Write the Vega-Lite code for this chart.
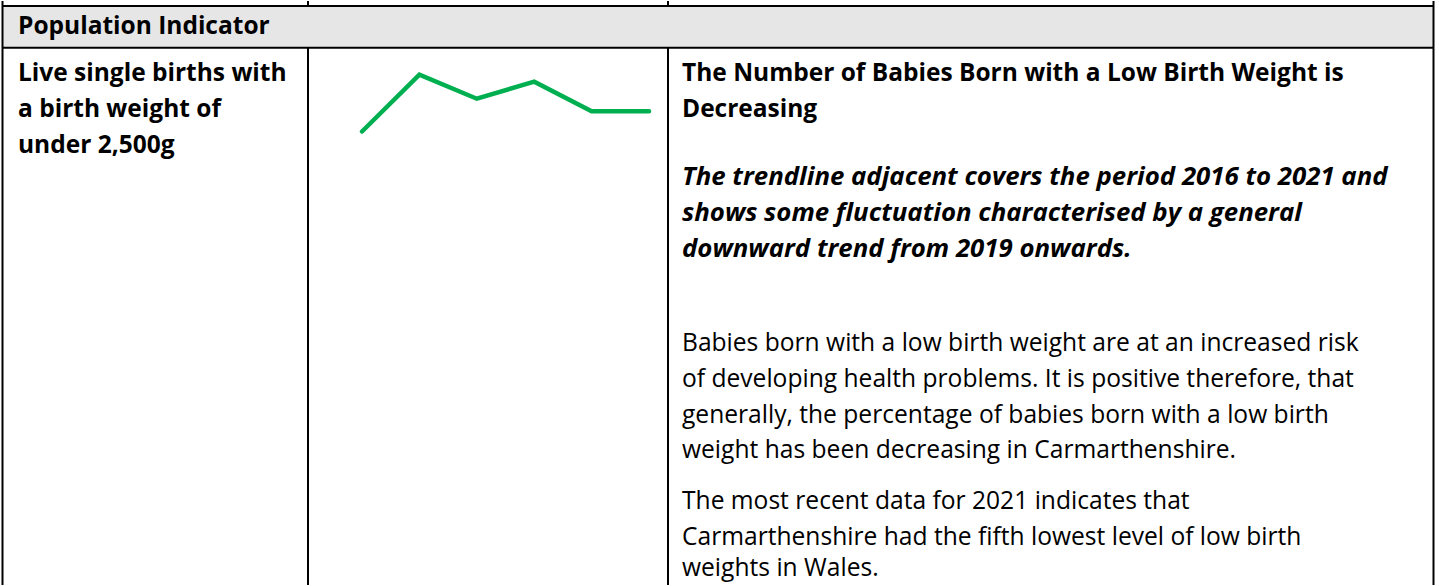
{
  "$schema": "https://vega.github.io/schema/vega-lite/v6.json",
  "width": 1439,
  "height": 586,
  "autosize": {"type": "fit", "contains": "padding"},
  "padding": 0,
  "background": "#ffffff",
  "config": {"view": {"stroke": null}},
  "datasets": {
    "bg": [{"x1": 3, "x2": 1433, "y1": 5, "y2": 47}],
    "lines": [
      {"x1": 2.5, "x2": 2.5, "y1": 0, "y2": 586},
      {"x1": 1433.5, "x2": 1433.5, "y1": 0, "y2": 586},
      {"x1": 308, "x2": 308, "y1": 0, "y2": 5},
      {"x1": 668, "x2": 668, "y1": 0, "y2": 5},
      {"x1": 308, "x2": 308, "y1": 47, "y2": 586},
      {"x1": 668, "x2": 668, "y1": 47, "y2": 586},
      {"x1": 2.5, "x2": 1433.5, "y1": 5, "y2": 5},
      {"x1": 2.5, "x2": 1433.5, "y1": 47, "y2": 47}
    ],
    "texts": [
      {"x": 18, "y": 26, "t": "Population Indicator", "s": "bold"},
      {"x": 18, "y": 73, "t": "Live single births with", "s": "bold"},
      {"x": 18, "y": 109, "t": "a birth weight of", "s": "bold"},
      {"x": 18, "y": 145, "t": "under 2,500g", "s": "bold"},
      {"x": 682, "y": 73, "t": "The Number of Babies Born with a Low Birth Weight is", "s": "bold"},
      {"x": 682, "y": 109, "t": "Decreasing", "s": "bold"},
      {"x": 682, "y": 177, "t": "The trendline adjacent covers the period 2016 to 2021 and", "s": "bolditalic"},
      {"x": 682, "y": 213, "t": "shows some fluctuation characterised by a general", "s": "bolditalic"},
      {"x": 682, "y": 249, "t": "downward trend from 2019 onwards.", "s": "bolditalic"},
      {"x": 682, "y": 344, "t": "Babies born with a low birth weight are at an increased risk", "s": "normal"},
      {"x": 682, "y": 380, "t": "of developing health problems. It is positive therefore, that", "s": "normal"},
      {"x": 682, "y": 416, "t": "generally, the percentage of babies born with a low birth", "s": "normal"},
      {"x": 682, "y": 452, "t": "weight has been decreasing in Carmarthenshire.", "s": "normal"},
      {"x": 682, "y": 503, "t": "The most recent data for 2021 indicates that", "s": "normal"},
      {"x": 682, "y": 539, "t": "Carmarthenshire had the fifth lowest level of low birth", "s": "normal"},
      {"x": 682, "y": 570, "t": "weights in Wales.", "s": "normal"}
    ],
    "spark": [
      {"year": 2016, "value": 5.2},
      {"year": 2017, "value": 6.1},
      {"year": 2018, "value": 5.72},
      {"year": 2019, "value": 5.99},
      {"year": 2020, "value": 5.52},
      {"year": 2021, "value": 5.52}
    ]
  },
  "layer": [
    {
      "layer": [
        {
          "data": {"name": "bg"},
          "mark": {"type": "rect", "color": "#e7e6e6"},
          "encoding": {
            "x": {"field": "x1", "type": "quantitative", "scale": {"domain": [0, 1439], "nice": false, "zero": false}, "axis": null},
            "x2": {"field": "x2"},
            "y": {"field": "y1", "type": "quantitative", "scale": {"domain": [0, 586], "nice": false, "zero": false, "reverse": true}, "axis": null},
            "y2": {"field": "y2"}
          }
        },
        {
          "data": {"name": "lines"},
          "mark": {"type": "rule", "color": "#000000", "strokeWidth": 2},
          "encoding": {
            "x": {"field": "x1", "type": "quantitative", "axis": null},
            "x2": {"field": "x2"},
            "y": {"field": "y1", "type": "quantitative", "axis": null},
            "y2": {"field": "y2"}
          }
        },
        {
          "data": {"name": "texts"},
          "transform": [{"filter": "datum.s == 'normal'"}],
          "mark": {"type": "text", "align": "left", "baseline": "middle", "font": "Open Sans", "fontSize": 24.6, "color": "#000000"},
          "encoding": {
            "x": {"field": "x", "type": "quantitative", "axis": null},
            "y": {"field": "y", "type": "quantitative", "axis": null},
            "text": {"field": "t"}
          }
        },
        {
          "data": {"name": "texts"},
          "transform": [{"filter": "datum.s == 'bold'"}],
          "mark": {"type": "text", "align": "left", "baseline": "middle", "font": "Open Sans", "fontSize": 24.5, "fontWeight": "bold", "color": "#000000"},
          "encoding": {
            "x": {"field": "x", "type": "quantitative", "axis": null},
            "y": {"field": "y", "type": "quantitative", "axis": null},
            "text": {"field": "t"}
          }
        },
        {
          "data": {"name": "texts"},
          "transform": [{"filter": "datum.s == 'bolditalic'"}],
          "mark": {"type": "text", "align": "left", "baseline": "middle", "font": "Open Sans", "fontSize": 25.8, "fontWeight": "bold", "fontStyle": "italic", "color": "#000000"},
          "encoding": {
            "x": {"field": "x", "type": "quantitative", "axis": null},
            "y": {"field": "y", "type": "quantitative", "axis": null},
            "text": {"field": "t"}
          }
        }
      ]
    },
    {
      "data": {"name": "spark"},
      "mark": {"type": "line", "color": "#00b050", "strokeWidth": 4.5, "strokeCap": "round", "strokeJoin": "miter"},
      "encoding": {
        "x": {"field": "year", "type": "quantitative", "scale": {"domain": [2009.693, 2034.763], "nice": false, "zero": false}, "axis": null},
        "y": {"field": "value", "type": "quantitative", "scale": {"domain": [-1.985, 7.268], "nice": false, "zero": false}, "axis": null}
      }
    }
  ],
  "resolve": {"scale": {"x": "independent", "y": "independent"}}
}
